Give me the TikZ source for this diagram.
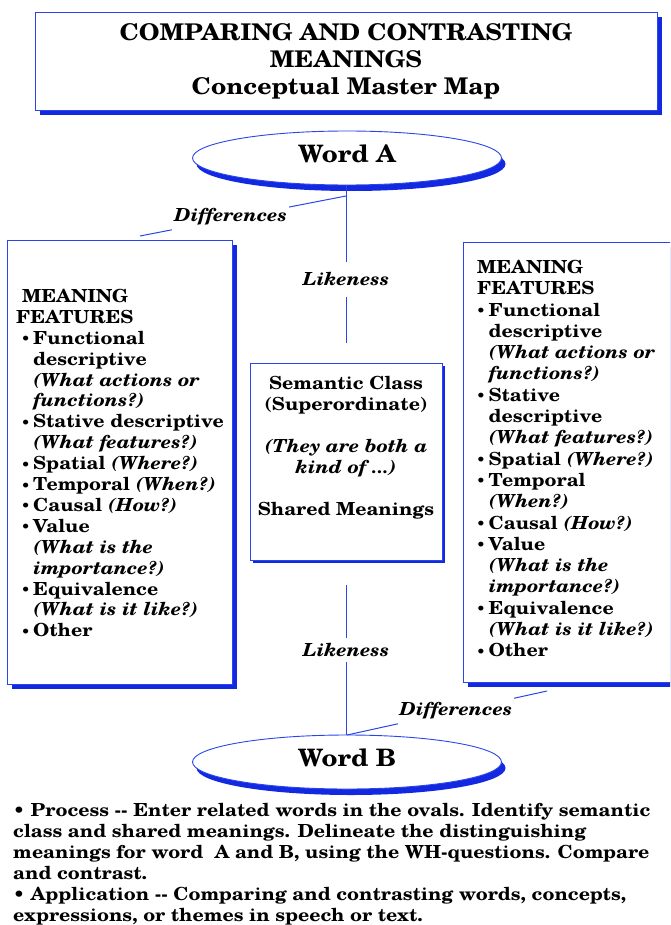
\documentclass[tikz,border=0pt]{standalone}
\usepackage{fontspec}
\setmainfont{TeX Gyre Schola}[Ligatures=TeXOff, FakeStretch=1.085]
\usetikzlibrary{shapes.geometric,shadows}
\definecolor{lineblue}{RGB}{40,70,235}
\definecolor{shadowblue}{RGB}{18,40,225}
\newcommand{\smallbul}{\raisebox{0.5pt}{\fontsize{14}{14}\selectfont\textbullet}}
\newcommand{\bulL}{\makebox[17pt][l]{\hspace*{5pt}\smallbul}}
\newcommand{\indL}{\hspace*{17pt}}
\newcommand{\bulR}{\makebox[11.5pt][l]{\hspace*{-0.8pt}\smallbul}}
\newcommand{\indR}{\hspace*{11.5pt}}
\begin{document}
\begin{tikzpicture}[x=1pt,y=-1pt,
  frame/.style={draw=lineblue, line width=0.9pt, fill=white, inner sep=0pt, outer sep=0pt},
  bigshadow/.style={drop shadow={shadow xshift=5pt, shadow yshift=-5pt, fill=shadowblue, opacity=1}},
  smallshadow/.style={drop shadow={shadow xshift=3pt, shadow yshift=-3pt, fill=shadowblue, opacity=1}},
  ovalshadow/.style={drop shadow={shadow xshift=4pt, shadow yshift=-6pt, fill=shadowblue, opacity=1}},
  oval/.style={ellipse, frame, minimum width=309pt, minimum height=54pt, text depth=8pt, font=\fontsize{24}{28}\selectfont\bfseries},
  boxtext/.style={font=\fontsize{18}{21}\selectfont\bfseries, align=left, inner sep=0pt, anchor=north west},
  linklabel/.style={font=\fontsize{18}{21}\selectfont\bfseries\itshape, fill=white, inner xsep=2pt},
  conn/.style={draw=lineblue, line width=1pt},
]
\useasboundingbox (0,0) rectangle (670,925);
\clip (0,0) rectangle (670,925);

% title
\node[frame, bigshadow, minimum width=622pt, minimum height=98pt, align=center,
      font=\fontsize{23}{27}\selectfont\bfseries] (title) at (346,61)
  {COMPARING AND CONTRASTING\\MEANINGS\\Conceptual Master Map};

% boxes
\node[frame, bigshadow, minimum width=225pt, minimum height=444pt] (boxL) at (119.5,462) {};
\node[frame, bigshadow, minimum width=227pt, minimum height=440pt] (boxR) at (576.5,462) {};
\node[frame, smallshadow, minimum width=192pt, minimum height=197pt] (boxC) at (346,461.5) {};

\node[boxtext, font=\fontsize{18}{20.9}\selectfont\bfseries] (txtL) at ([xshift=9pt,yshift=-49pt]boxL.north west) {%
\hspace*{6pt}MEANING\\
FEATURES\\
\bulL Functional\\
\indL descriptive\\
\indL\textit{(What actions or}\\
\indL\textit{functions?)}\\
\bulL Stative descriptive\\
\indL\textit{(What features?)}\\
\bulL Spatial \textit{(Where?)}\\
\bulL Temporal \textit{(When?)}\\
\bulL Causal \textit{(How?)}\\
\bulL Value\\
\indL\textit{(What is the}\\
\indL\textit{importance?)}\\
\bulL Equivalence\\
\indL\textit{(What is it like?)}\\
\bulL Other};

\node[boxtext, font=\fontsize{18}{21.3}\selectfont\bfseries] (txtR) at ([xshift=14pt,yshift=-18pt]boxR.north west) {%
MEANING\\
FEATURES\\
\bulR Functional\\
\indR descriptive\\
\indR\textit{(What actions or}\\
\indR\textit{functions?)}\\
\bulR Stative\\
\indR descriptive\\
\indR\textit{(What features?)}\\
\bulR Spatial \textit{(Where?)}\\
\bulR Temporal\\
\indR\textit{(When?)}\\
\bulR Causal \textit{(How?)}\\
\bulR Value\\
\indR\textit{(What is the}\\
\indR\textit{importance?)}\\
\bulR Equivalence\\
\indR\textit{(What is it like?)}\\
\bulR Other};

\node[boxtext, align=center, anchor=north] (txtC) at ([yshift=-13pt]boxC.north) {%
Semantic Class\\
(Superordinate)\\[21pt]
\textit{(They are both a}\\
\textit{kind of ...)}\\[21pt]
Shared Meanings};

% ovals
\node[oval, ovalshadow] (wordA) at (347,158) {Word A};
\node[oval, ovalshadow] (wordB) at (347,762) {Word B};

% connectors
\coordinate (likeAend) at (346,343);
\coordinate (likeBstart) at (346,585);
\coordinate (wordAfoot) at (346,196);
\coordinate (boxLcorner) at (140,236);
\coordinate (boxRcorner) at (547,691);

\draw[conn] (wordA.south -| likeAend) -- node[linklabel, pos=0.595, minimum height=35pt] (likeA) {Likeness} (likeAend);
\draw[conn] (likeBstart) -- node[linklabel, pos=0.433, minimum height=24pt] (likeB) {Likeness} (wordB.north -| likeBstart);
\draw[conn] (wordAfoot) -- node[linklabel, pos=0.56, inner ysep=7pt, yshift=2pt] (diffA) {Differences} (boxLcorner);
\draw[conn] (wordB.north) -- node[linklabel, pos=0.545, inner ysep=7pt] (diffB) {Differences} (boxRcorner);

% notes
\node[boxtext] (notes) at (13,803) {%
\textbullet{} Process -- Enter related words in the ovals. Identify semantic\\
class and shared meanings. Delineate the distinguishing\\
meanings for word\ \ A and B, using the WH-questions. Compare\\
and contrast.\\
\textbullet{} Application -- Comparing and contrasting words, concepts,\\
expressions, or themes in speech or text.};
\end{tikzpicture}
\end{document}
